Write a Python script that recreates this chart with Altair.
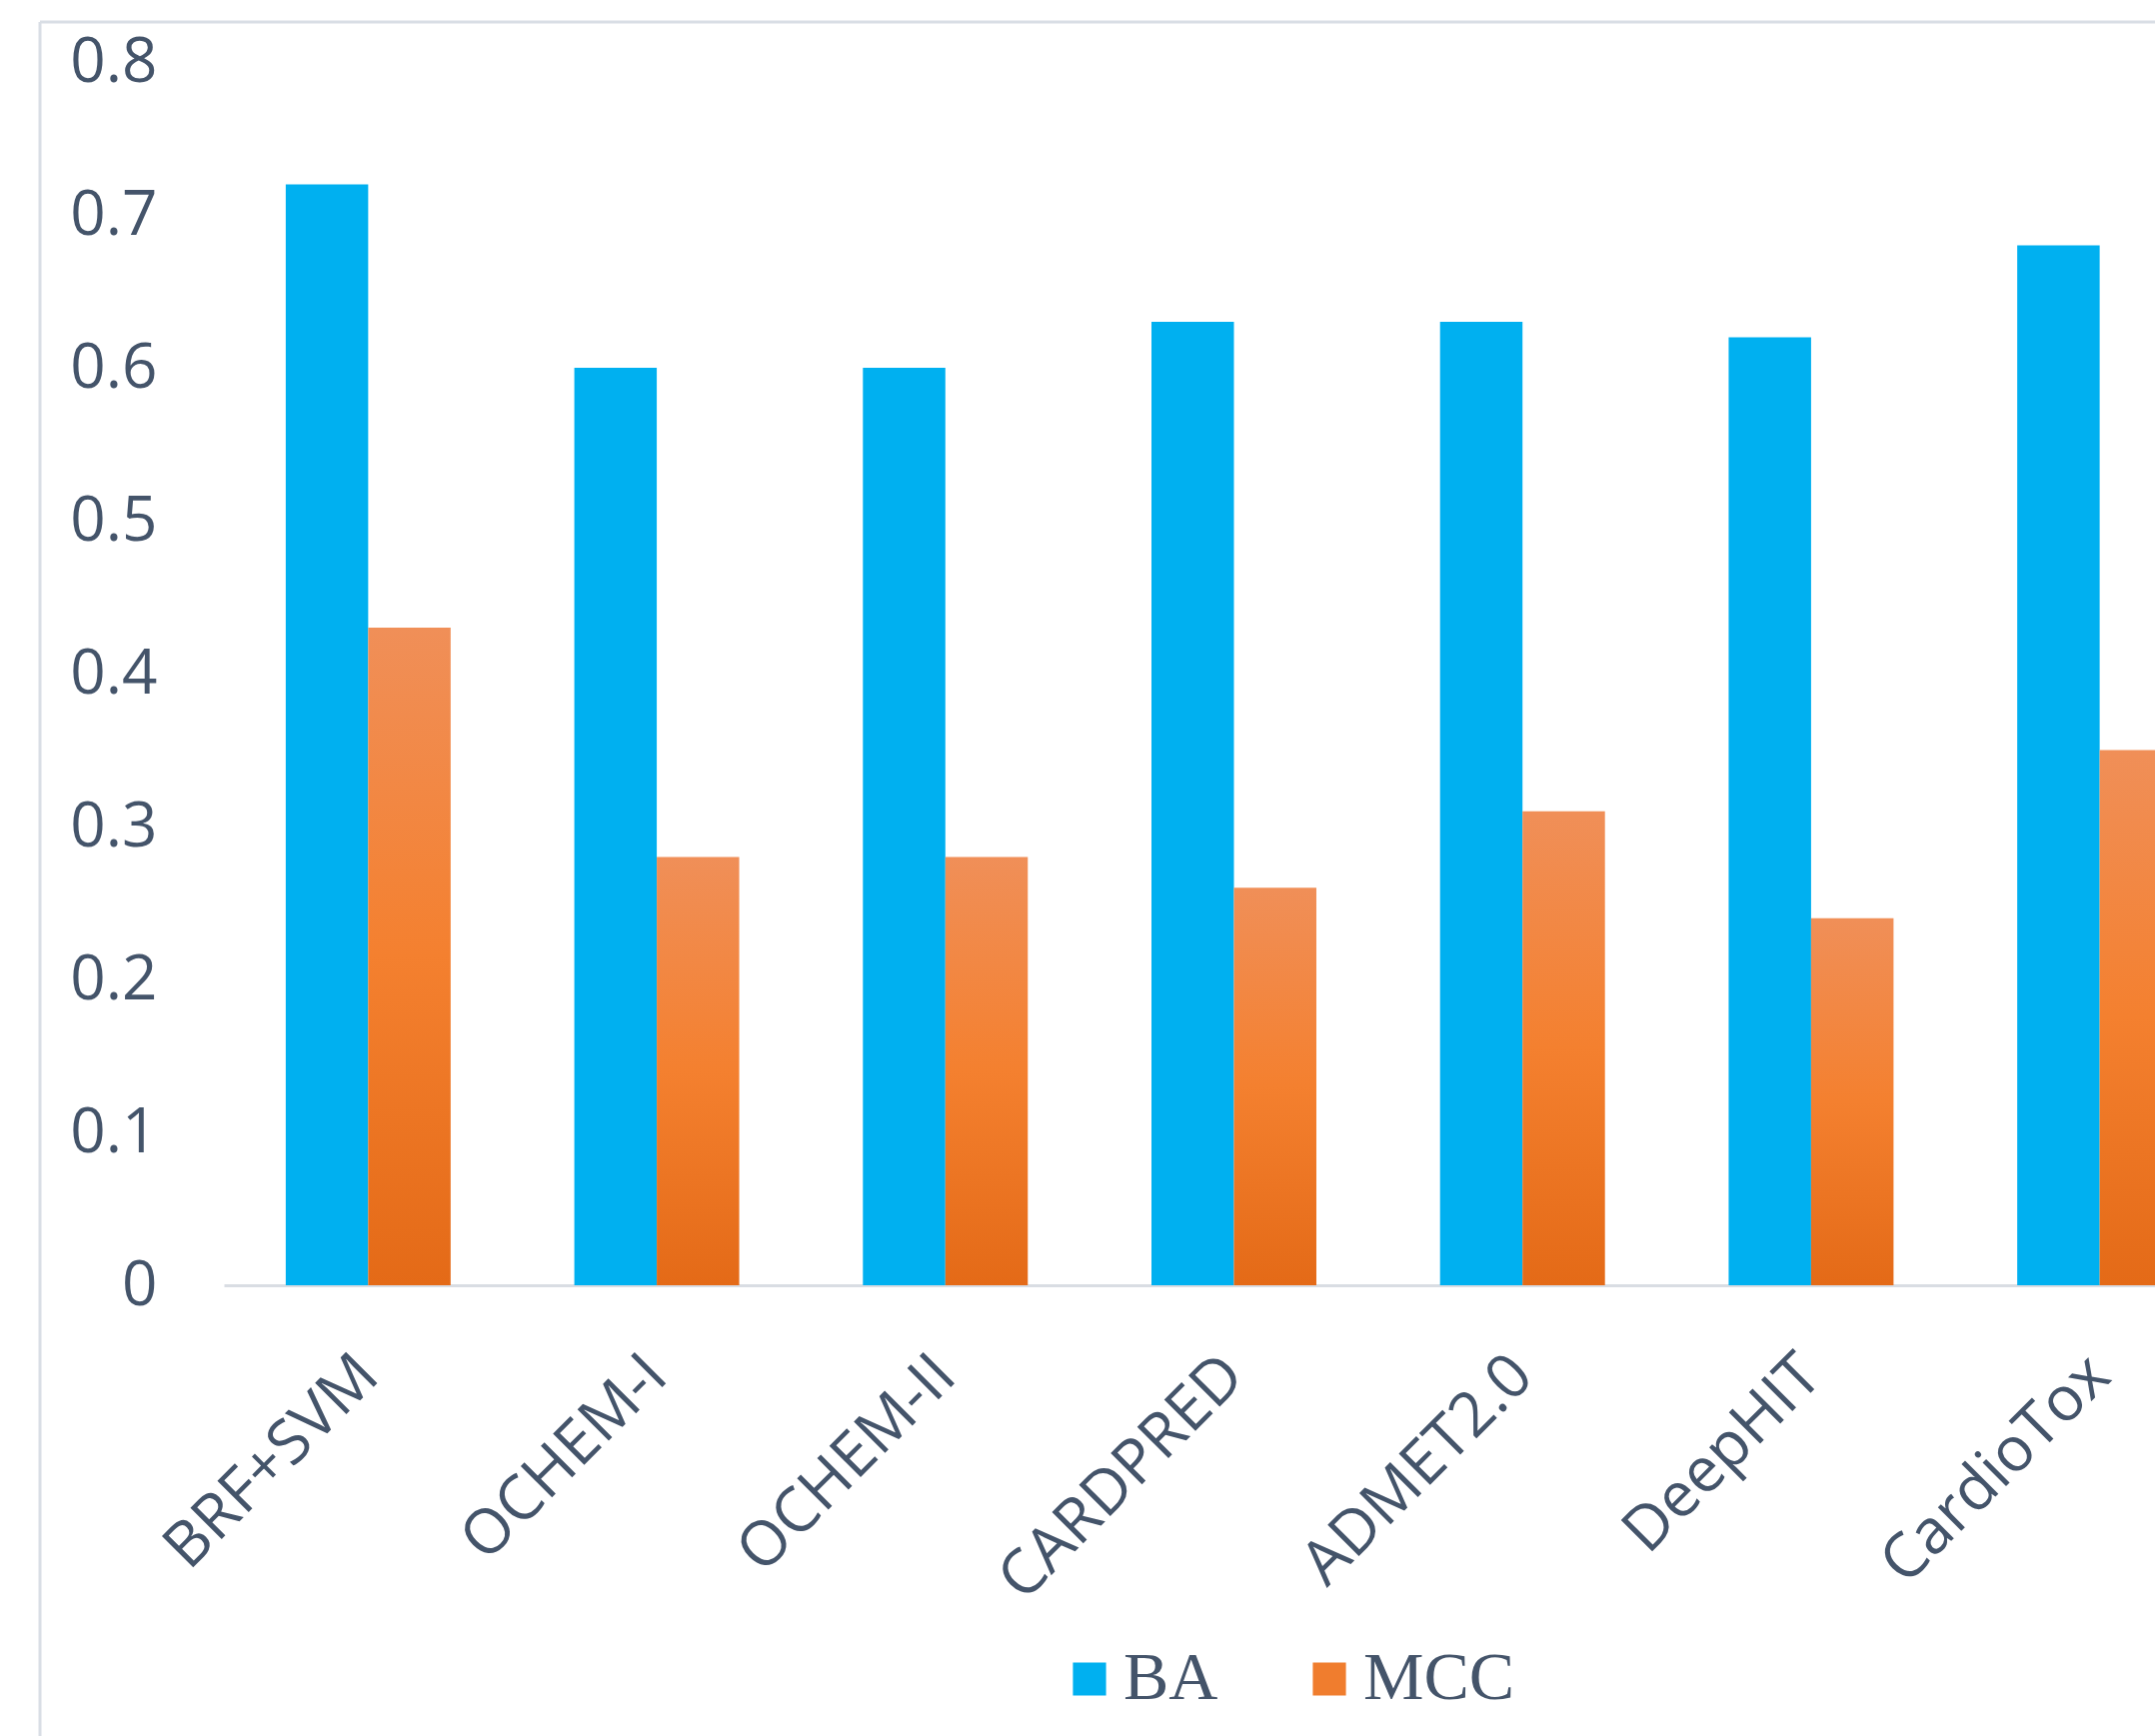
import altair as alt
import pandas as pd

# ---- data ----
categories = ["BRF+SVM", "OCHEM-I", "OCHEM-II", "CARDPRED", "ADMET2.0", "DeepHIT", "CardioTox"]
ba_values = [0.72, 0.60, 0.60, 0.63, 0.63, 0.62, 0.68]
mcc_values = [0.43, 0.28, 0.28, 0.26, 0.31, 0.24, 0.35]
series_names = ["BA", "MCC"]
y_ticks = [0, 0.1, 0.2, 0.3, 0.4, 0.5, 0.6, 0.7, 0.8]

rows = []
for c, b, m in zip(categories, ba_values, mcc_values):
    rows.append({"model": c, "series": "BA", "value": b})
    rows.append({"model": c, "series": "MCC", "value": m})
df = pd.DataFrame(rows)

TEXT = "#44546A"
BLUE = "#00B0F0"
ORANGE = "#F07D2E"
FRAME = "#D9DEE5"
AXIS = "#D9DDE3"

x_enc = alt.X(
    "model:N",
    sort=categories,
    scale=alt.Scale(domain=categories, range=[0, 2021], paddingInner=0.4286, paddingOuter=0.2143),
    axis=alt.Axis(
        title=None, labelAngle=-45, labelAlign="right", labelBaseline="middle",
        labelPadding=80, labelFontSize=62, labelFont="Open Sans", labelColor=TEXT,
        domainColor=AXIS, domainWidth=3, ticks=False, tickSize=0,
        labelOverlap=False, labelLimit=1000,
    ),
)
y_enc = alt.Y(
    "value:Q",
    scale=alt.Scale(domain=[0, 0.8], nice=False, zero=True),
    axis=alt.Axis(
        title=None, values=y_ticks, format="~g", grid=False, domain=False, ticks=False,
        labelPadding=67, labelFontSize=62, labelFont="Open Sans", labelColor=TEXT,
    ),
)
xoff = alt.XOffset("series:N", scale=alt.Scale(domain=series_names, paddingInner=0, paddingOuter=0))

base = alt.Chart(df)

ba = base.transform_filter(alt.datum.series == "BA").mark_bar(clip=True).encode(
    x=x_enc, y=y_enc, xOffset=xoff,
    color=alt.Color(
        "series:N",
        scale=alt.Scale(domain=series_names, range=[BLUE, ORANGE]),
        legend=alt.Legend(
            title=None, orient="none", direction="horizontal", legendX=832, legendY=1584,
            symbolType="square", symbolSize=1100, symbolStrokeWidth=0,
            labelFont="Liberation Serif", labelFontSize=68, labelColor=TEXT,
            labelOffset=0, columnPadding=77, padding=0, labelLimit=1000,
        ),
    ),
)

mcc = base.transform_filter(alt.datum.series == "MCC").mark_bar(
    clip=True,
    color=alt.Gradient(
        gradient="linear",
        stops=[
            alt.GradientStop(color="#F08F58", offset=0),
            alt.GradientStop(color="#F4802F", offset=0.5),
            alt.GradientStop(color="#E46A17", offset=1),
        ],
        x1=0, x2=0, y1=0, y2=1,
    ),
).encode(x=x_enc, y=y_enc, xOffset=xoff)

frame_src = alt.Chart(pd.DataFrame({"k": [0]}))
frame_left = frame_src.mark_rule(color=FRAME, strokeWidth=3).encode(
    x=alt.value(-184), y=alt.value(-40), y2=alt.value(1760)
)
frame_top = frame_src.mark_rule(color=FRAME, strokeWidth=3).encode(
    x=alt.value(-184), x2=alt.value(2100), y=alt.value(-40)
)

chart = alt.layer(frame_left, frame_top, ba, mcc).properties(
    width=1932,
    height=1224,
    autosize=alt.AutoSizeParams(type="none"),
    padding={"left": 224, "top": 62, "right": 0, "bottom": 451},
    background="white",
).configure_view(stroke=None)

chart.save("out.html", embed_options={"renderer": "svg", "actions": False})
